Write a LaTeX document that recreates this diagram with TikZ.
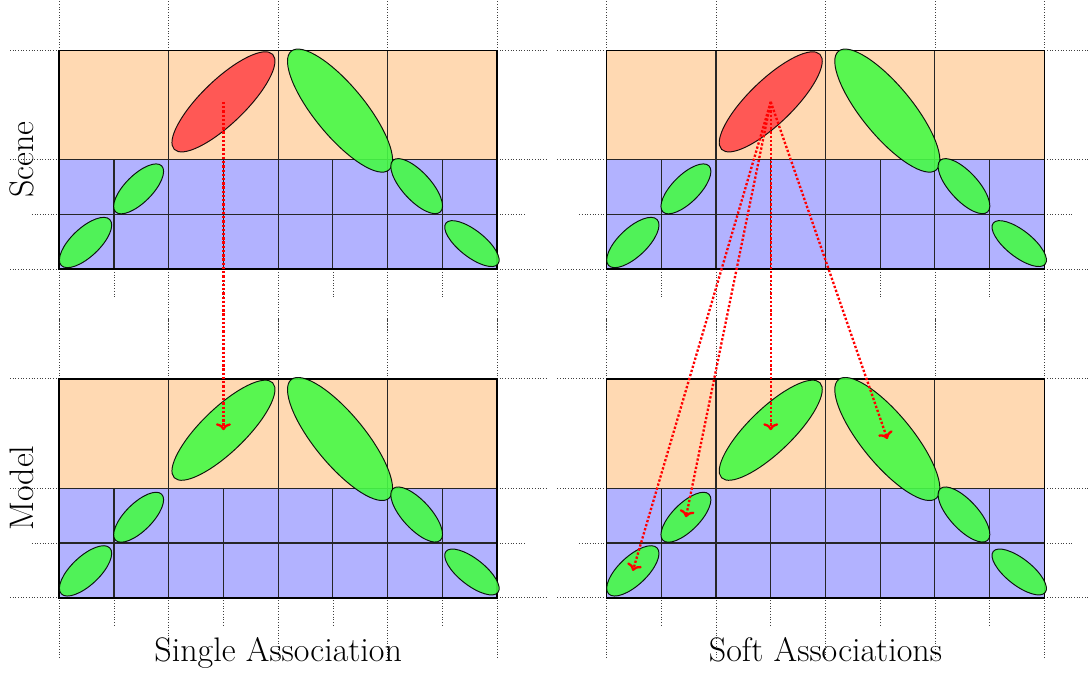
\documentclass[tikz,border=0pt]{standalone}
\usetikzlibrary{shapes.geometric,arrows.meta}
\definecolor{gfill}{RGB}{70,250,70}
\definecolor{rfill}{RGB}{255,75,75}
\tikzset{
  orangecell/.style={fill=orange!30},
  bluecell/.style={fill=blue!30},
  gridline/.style={black!85, line width=0.55pt},
  border/.style={black, line width=0.9pt},
  tick/.style={black!75, line width=0.4pt, densely dotted},
  blob/.style={ellipse, draw=black, line width=0.5pt, fill opacity=0.9, draw opacity=0.9, inner sep=0pt, outer sep=0pt},
  assoc/.style={red, line width=1.2pt, densely dotted, -{Computer Modern Rightarrow[length=3.6pt,width=7.8pt]}},
  lab/.style={font=\fontsize{17.7}{20}\selectfont, inner sep=0pt},
}
\newcommand{\mypanel}[4]{%
\begin{scope}[shift={(#1,#2)}]
 \fill[orangecell] (0,2) rectangle (8,4);
 \fill[bluecell] (0,0) rectangle (8,2);
 \foreach \x in {0,2,...,8} {\draw[tick] (\x,4) -- (\x,5.1); \draw[tick] (\x,0) -- (\x,-1.1);}
 \foreach \x in {1,3,...,7} {\draw[tick] (\x,0) -- (\x,-0.5);}
 \foreach \y in {0,2,4} {\draw[tick] (-0.9,\y) -- (0,\y); \draw[tick] (8,\y) -- (8.9,\y);}
 \draw[tick] (-0.5,1) -- (0,1); \draw[tick] (8,1) -- (8.5,1);
 \draw[gridline] (0,1) -- (8,1) (0,2) -- (8,2);
 \foreach \x in {1,...,7} {\draw[gridline] (\x,0) -- (\x,2);}
 \foreach \x in {2,4,6} {\draw[gridline] (\x,2) -- (\x,4);}
 \draw[border] (0,0) rectangle (8,4);
 \node[blob, fill=gfill, minimum width=1.22cm, minimum height=0.52cm, rotate=43.4] (#3a) at (0.48,0.49) {};
 \node[blob, fill=gfill, minimum width=1.19cm, minimum height=0.50cm, rotate=45] (#3b) at (1.45,1.47) {};
 \node[blob, fill=#4, minimum width=2.50cm, minimum height=0.80cm, rotate=44] (#3c) at (3.0,3.06) {};
 \node[blob, fill=gfill, minimum width=2.81cm, minimum height=0.92cm, rotate=-50.6] (#3d) at (5.13,2.9) {};
 \node[blob, fill=gfill, minimum width=1.28cm, minimum height=0.52cm, rotate=-47.5] (#3e) at (6.53,1.52) {};
 \node[blob, fill=gfill, minimum width=1.21cm, minimum height=0.48cm, rotate=-38.3] (#3f) at (7.54,0.47) {};
\end{scope}}
\begin{document}
\begin{tikzpicture}
\useasboundingbox (-1.083,-1.376) rectangle (18.815,10.921);
\mypanel{0}{6}{ls}{rfill}
\mypanel{0}{0}{lm}{gfill}
\mypanel{10}{6}{rs}{rfill}
\mypanel{10}{0}{rm}{gfill}
\node[lab, rotate=90, anchor=base] (scene) at (-0.47,8) {Scene};
\node[lab, rotate=90, anchor=base] (model) at (-0.47,2) {Model};
\node[lab, anchor=base] (single) at (4,-1.17) {Single Association};
\node[lab, anchor=base] (soft) at (14,-1.17) {Soft Associations};
\draw[assoc] (lsc.center) -- (lmc.center);
\draw[assoc] (rsc.center) -- (rmc.center);
\draw[assoc] (rsc.center) -- (rmd.center);
\draw[assoc] (rsc.center) -- (rmb.center);
\draw[assoc] (rsc.center) -- (rma.center);
\end{tikzpicture}
\end{document}
